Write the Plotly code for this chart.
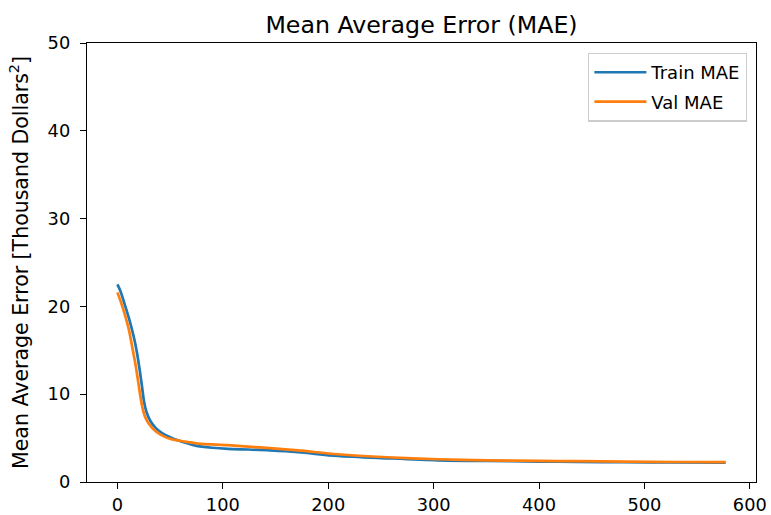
import plotly.graph_objects as go

# Train MAE readings (epoch, value)
train_epochs = [0, 3, 7.5, 11.3, 15.4, 18.6, 21.1, 23.3, 25.2, 27.5, 31, 36, 42, 49,
                58, 74, 90, 105, 124, 145, 171.5, 209, 256, 304, 351, 400, 436, 480, 530, 577]
train_mae = [22.5, 21.7, 20.0, 18.5, 16.6, 14.7, 12.8, 10.9, 9.2, 8.0, 7.0, 6.2, 5.6, 5.15,
             4.72, 4.15, 3.90, 3.77, 3.70, 3.60, 3.40, 2.97, 2.70, 2.47, 2.40, 2.33, 2.30, 2.25, 2.22, 2.20]

# Val MAE readings (epoch, value)
val_epochs = [0, 3, 7, 11, 14, 17, 19.5, 21.5, 23.5, 26, 30, 36, 44, 52, 64, 77,
              105, 124, 145, 171.5, 209, 256, 304, 351, 400, 436, 480, 530, 577]
val_mae = [21.6, 20.6, 19.1, 17.3, 15.4, 13.5, 11.6, 10.0, 8.6, 7.5, 6.6, 5.8, 5.2, 4.85, 4.6, 4.38,
           4.20, 4.03, 3.85, 3.60, 3.16, 2.82, 2.59, 2.47, 2.40, 2.37, 2.32, 2.28, 2.26]

x_ticks = [0, 100, 200, 300, 400, 500, 600]
y_ticks = [0, 10, 20, 30, 40, 50]

FONT = "DejaVu Sans"
TICK = 17.8

fig = go.Figure()
fig.add_trace(go.Scatter(x=train_epochs, y=train_mae, mode="lines", name="Train MAE",
                         line=dict(color="#1f77b4", width=2.7, shape="spline", smoothing=0.8),
                         legendgroup="a"))
fig.add_trace(go.Scatter(x=val_epochs, y=val_mae, mode="lines", name="Val MAE",
                         line=dict(color="#ff7f0e", width=2.7, shape="spline", smoothing=0.8),
                         legendgroup="b"))

axis_common = dict(showline=True, linecolor="black", linewidth=1.4, mirror=True,
                   ticks="outside", ticklen=6, tickwidth=1.4, tickcolor="black",
                   showgrid=False, zeroline=False, automargin=False,
                   tickfont=dict(family=FONT, size=TICK, color="black"))

fig.update_layout(
    width=771, height=515,
    margin=dict(l=87, r=15, t=43, b=33),
    paper_bgcolor="white", plot_bgcolor="white",
    font=dict(family=FONT, size=TICK, color="black"),
    title=dict(text="Mean Average Error (MAE)", x=0.5467, xanchor="center",
               y=1 - 25 / 515, yanchor="middle", yref="container",
               font=dict(family=FONT, size=23.7, color="black")),
    xaxis=dict(range=[-28.85, 605.85], tickvals=x_ticks, ticklabelstandoff=0, **axis_common),
    yaxis=dict(range=[0, 50], tickvals=y_ticks, ticklabelstandoff=6,
               title=dict(text="Mean Average Error [Thousand Dollars<sup>2</sup>]",
                          font=dict(family=FONT, size=20.5, color="black"), standoff=13),
               **axis_common),
    legend=dict(x=0.9865, y=0.978, xanchor="right", yanchor="top",
                bgcolor="rgba(255,255,255,0.8)", bordercolor="#cccccc", borderwidth=1.4,
                font=dict(family=FONT, size=18, color="black"),
                itemwidth=52, traceorder="grouped", tracegroupgap=3),
    showlegend=True,
)

fig.write_html("out.html", config={"displayModeBar": False},
               post_script="document.body.style.margin='0px';document.body.style.overflow='hidden';")
